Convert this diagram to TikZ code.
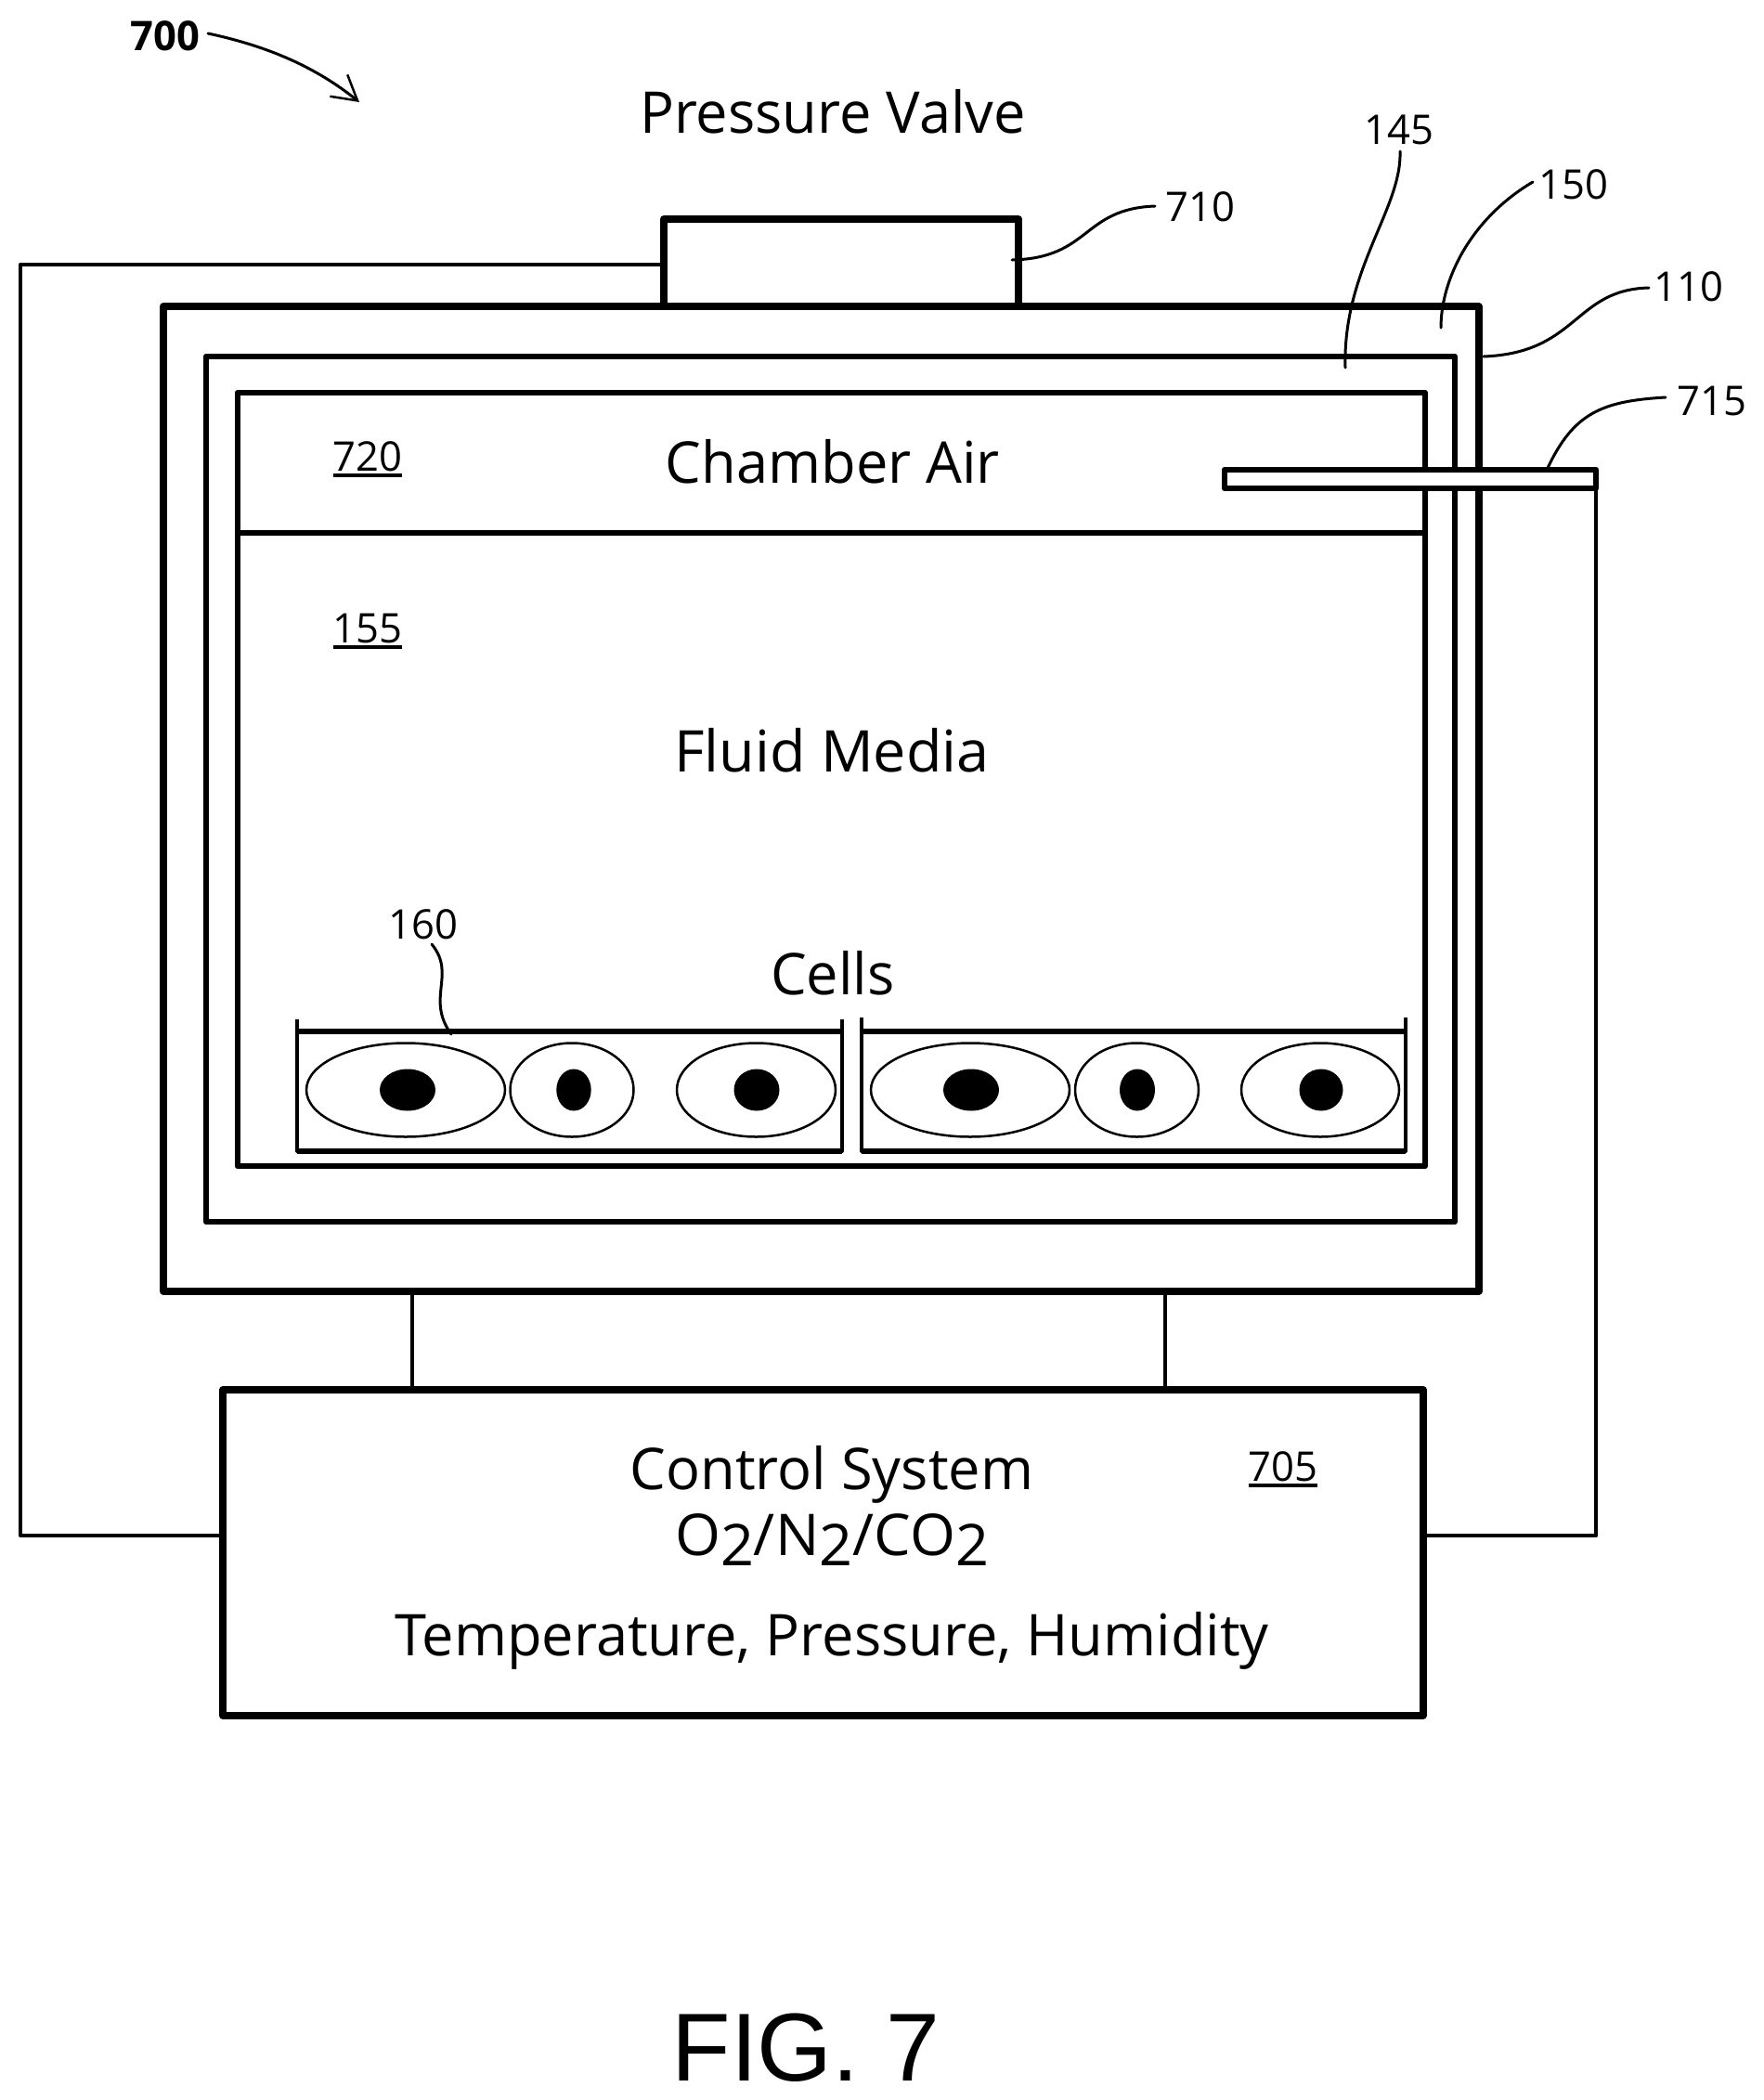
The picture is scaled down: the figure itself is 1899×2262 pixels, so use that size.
\documentclass[tikz,border=0pt]{standalone}
\usepackage{fontspec}
\usepackage{graphicx}
\setmainfont{Open Sans}[FakeStretch=0.99]
\newfontfamily\figfont{Liberation Sans}
\usetikzlibrary{arrows.meta}
\newcommand\ulabel[1]{\leavevmode\setbox0\hbox{#1}\rlap{\rule[-6.5pt]{\wd0}{4pt}}\box0}
\tikzset{
  heavy/.style={draw=black,line width=7.5pt,line join=round},
  medium/.style={draw=black,line width=6.5pt,line join=round},
  wire/.style={draw=black,line width=4.5pt,line join=round},
  traywall/.style={draw=black,line width=4pt,line join=round},
  leader/.style={draw=black,line width=3pt,line cap=round},
  cellbody/.style={draw=black,line width=2.5pt},
  nucleus/.style={fill=black},
  biglabel/.style={inner sep=0pt,font=\fontsize{62}{70}\selectfont,anchor=base},
  reflabel/.style={inner sep=0pt,font=\fontsize{44}{50}\selectfont,anchor=base},
}
\begin{document}
\begin{tikzpicture}[x=1pt,y=-1pt]
\useasboundingbox (0,0) rectangle (1899,2262);
% boxes
\coordinate (wireTL) at (22,285);
\coordinate (wireTR) at (715,285);
\coordinate (wireBL) at (22,1654);
\coordinate (wireBR) at (1719,1654);
\coordinate (valveSW) at (715,330);
\coordinate (valveNW) at (715,236);
\coordinate (valveNE) at (1097,236);
\coordinate (valveSE) at (1097,330);
\coordinate (outerNW) at (176,330);
\coordinate (outerSE) at (1593,1391);
\coordinate (midNW) at (222,384);
\coordinate (midSE) at (1567,1316);
\coordinate (innerNW) at (256,423);
\coordinate (innerSE) at (1535,1256);
\coordinate (ctrlNW) at (240,1497);
\coordinate (ctrlSE) at (1533,1848);
\coordinate (probeNW) at (1319,506);
\coordinate (probeSE) at (1719,526);
\coordinate (airL) at (258,574);
\coordinate (airR) at (1533,574);

\draw[heavy] (outerNW) rectangle (outerSE);
\draw[medium] (midNW) rectangle (midSE);
\draw[medium] (innerNW) rectangle (innerSE);
\draw[heavy] (ctrlNW) rectangle (ctrlSE);
\draw[heavy] (valveSW) -- (valveNW) -- (valveNE) -- (valveSE);
\draw[medium] (airL) -- (airR);
\draw[medium,fill=white] (probeNW) rectangle (probeSE);

% wires
\draw[wire] (wireTR) -- (wireTL) -- (wireBL) -- (ctrlNW |- wireBL);
\draw[wire] (ctrlSE |- wireBR) -- (wireBR) -- (probeSE);
\draw[wire] (444,1391) -- (444,1497);
\draw[wire] (1255,1391) -- (1255,1497);

% trays
\draw[traywall] (320,1098) -- (320,1240) -- (907,1240) -- (907,1098);
\draw[medium] (320,1111) -- (907,1111);
\draw[medium] (320,1240) -- (907,1240);
\draw[traywall] (928,1096) -- (928,1240) -- (1514,1240) -- (1514,1096);
\draw[medium] (928,1111) -- (1514,1111);
\draw[medium] (928,1240) -- (1514,1240);

% cells
\draw[cellbody] (437,1174) ellipse (107 and 50.5);
\fill[nucleus] (439,1174) ellipse (30 and 22.5);
\draw[cellbody] (616,1174) ellipse (66.5 and 50.5);
\fill[nucleus] (618,1174) ellipse (18.7 and 22.5);
\draw[cellbody] (814.5,1174) ellipse (85.5 and 50.5);
\fill[nucleus] (815,1174) ellipse (24.5 and 22.5);
\draw[cellbody] (1045,1174) ellipse (107 and 50.5);
\fill[nucleus] (1046,1174) ellipse (30 and 22.5);
\draw[cellbody] (1224.5,1174) ellipse (66.5 and 50.5);
\fill[nucleus] (1225,1174) ellipse (19 and 22.5);
\draw[cellbody] (1422,1174) ellipse (85 and 50.5);
\fill[nucleus] (1423,1174) ellipse (23.5 and 22.5);

% big texts
\node[biglabel] (valveText) at (897,143) {Pressure Valve};
\node[biglabel] (airText) at (897,520) {Chamber Air};
\node[biglabel] (mediaText) at (896,831) {\scalebox{1.025}[1]{Fluid Media}};
\node[biglabel] (cellsText) at (897,1071) {Cells};
\node[biglabel] (ctrlText) at (896,1604) {Control System};
\node[biglabel] (gasText) at (896,1675) {\scalebox{1.025}[1]{O\raisebox{-11pt}{2}/N\raisebox{-11pt}{2}/CO\raisebox{-11pt}{2}}};
\node[biglabel] (paramText) at (896,1783) {Temperature, Pressure, Humidity};
\node[inner sep=0pt,anchor=base,font=\figfont\fontsize{104}{115}\selectfont] (figText) at (868,2241) {FIG. 7};

% reference labels
\node[reflabel,font=\bfseries\fontsize{44}{50}\selectfont] (r700) at (178,54) {700};
\node[reflabel] (r145) at (1507,155) {145};
\node[reflabel] (r150) at (1695,214) {150};
\node[reflabel] (r710) at (1293,238) {710};
\node[reflabel] (r110) at (1819,324) {110};
\node[reflabel] (r715) at (1844,447) {715};
\node[reflabel] (r720) at (396,507) {\ulabel{720}};
\node[reflabel] (r155) at (396,692) {\ulabel{155}};
\node[reflabel] (r160) at (456,1011) {160};
\node[reflabel] (r705) at (1382,1595) {\ulabel{705}};

% leaders
\coordinate (t700) at (387,110);
\coordinate (t145) at (1449,396);
\coordinate (t150) at (1552,353);
\coordinate (t710) at (1090,280);
\coordinate (t110) at (1598,384);
\coordinate (t715) at (1667,504);
\coordinate (t160) at (486,1114);
\draw[leader,-{Straight Barb[length=26pt,width=30pt,line width=2.5pt]}] (224,36) .. controls (280,48) and (335,68) .. (t700);
\draw[leader] (1508,163) .. controls (1510,225) and (1446,290) .. (t145);
\draw[leader] (1651,196) .. controls (1585,235) and (1552,300) .. (t150);
\draw[leader] (1244,222) .. controls (1165,225) and (1175,278) .. (t710);
\draw[leader] (1776,310) .. controls (1695,312) and (1700,380) .. (t110);
\draw[leader] (1794,428) .. controls (1725,432) and (1695,445) .. (t715);
\draw[leader] (465,1017) .. controls (492,1050) and (458,1075) .. (t160);
\end{tikzpicture}
\end{document}
